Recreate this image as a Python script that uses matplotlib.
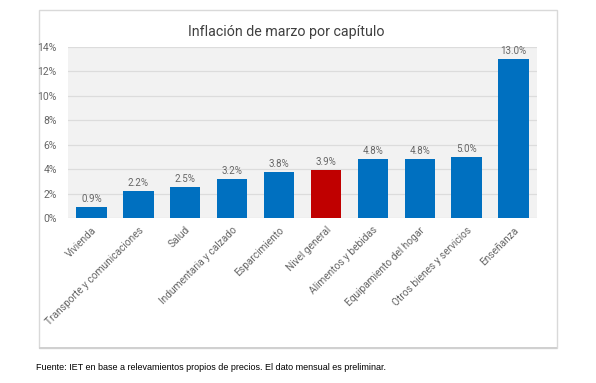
import matplotlib.pyplot as plt
from matplotlib.patches import Rectangle
from matplotlib.ticker import FuncFormatter, MultipleLocator

categorias = ["Vivienda", "Transporte y comunicaciones", "Salud", "Indumentaria y calzado",
              "Esparcimiento", "Nivel general", "Alimentos y bebidas", "Equipamiento del hogar",
              "Otros bienes y servicios", "Enseñanza"]
valores = [0.9, 2.2, 2.5, 3.2, 3.8, 3.9, 4.8, 4.8, 5.0, 13.0]
destacado = "Nivel general"

plt.rcParams["font.family"] = ["Roboto", "DejaVu Sans"]

fig = plt.figure(figsize=(5.96, 3.83), dpi=100)
W, H = 596, 383

# marco del grafico (detras de los ejes)
fig.patches.append(Rectangle((39 / W, 1 - 348 / H), (557 - 39) / W, (348 - 10) / H,
                             transform=fig.transFigure, facecolor="white",
                             edgecolor="#d9d9d9", lw=1.0, zorder=-2))
fig.patches.append(Rectangle((39 / W, 1 - 349 / H), (557 - 39) / W, 2 / H,
                             transform=fig.transFigure, facecolor="#d0d0d0",
                             edgecolor="none", zorder=-1))

ax = fig.add_axes([68 / W, 1 - 218 / H, (537 - 68) / W, (218 - 47) / H])
ax.set_facecolor("#f2f2f2")

colores = ["#c00000" if c == destacado else "#0070c0" for c in categorias]
x = range(len(categorias))
bars = ax.bar(x, valores, width=0.65, color=colores, zorder=3)
for b, v in zip(bars, valores):
    ax.text(b.get_x() + b.get_width() / 2, v + 0.25, f"{v:.1f}%", ha="center",
            va="bottom", fontsize=7, color="#666666")

ax.set_ylim(0, 14)
ax.set_xlim(-0.5, len(categorias) - 0.5)
ax.yaxis.set_major_locator(MultipleLocator(2))
ax.yaxis.set_major_formatter(FuncFormatter(lambda v, p: f"{v:.0f}%"))
ax.grid(axis="y", color="#dcdcdc", lw=0.9, zorder=0)
for s in ax.spines.values():
    s.set_visible(False)
ax.tick_params(axis="both", length=0, labelsize=7, labelcolor="#666666")
ax.tick_params(axis="y", pad=8, labelsize=7.5)
ax.tick_params(axis="x", pad=5, labelsize=7.3)
ax.set_xticks(list(x))
ax.set_xticklabels(categorias, rotation=45, ha="right", rotation_mode="anchor")

fig.text(286 / W, 1 - 32 / H, "Inflación de marzo por capítulo", ha="center",
         va="center", fontsize=10.3, color="#404040")
fig.text(36 / W, 1 - 367 / H,
         "Fuente: IET en base a relevamientos propios de precios. El dato mensual es preliminar.",
         ha="left", va="center", fontsize=6.5, family=["Liberation Sans", "DejaVu Sans"],
         color="black")

fig.savefig("out.png", dpi=100)
